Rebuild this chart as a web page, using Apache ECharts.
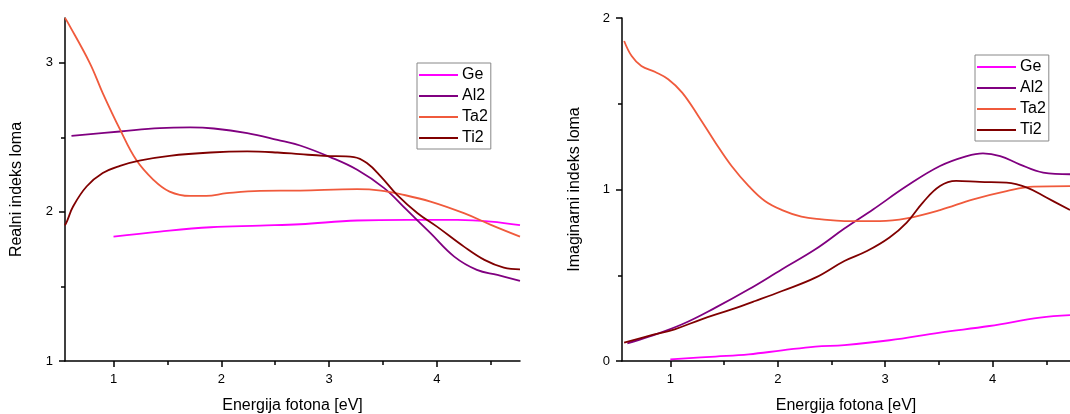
<!DOCTYPE html>
<html>
<head>
<meta charset="utf-8">
<script src="https://cdn.jsdelivr.net/npm/echarts@6/dist/echarts.min.js"></script>
<style>
html,body{margin:0;padding:0;background:#fff;}
#c{width:1070px;height:414px;}
</style>
</head>
<body>
<div id="c"></div>
<script>
// ---- data ----
var seriesNames = ['Ge', 'Al2', 'Ta2', 'Ti2'];
var xMajorTicks = [1, 2, 3, 4];
var xMinorTicks = [1.5, 2.5, 3.5, 4.5];
var yRealMajor = [1, 2, 3];
var yRealMinor = [1.5, 2.5];
var yImagMajor = [0, 1, 2];
var yImagMinor = [0.5, 1.5];

// Real part [energy eV, n]
var geReal = [[1.0,1.834],[1.43,1.868],[1.9,1.897],[2.36,1.908],[2.73,1.917],[3.26,1.942],[3.72,1.946],[4.19,1.946],[4.5,1.935],[4.77,1.911]];
var al2Real = [[0.61,2.51],[1.06,2.539],[1.43,2.562],[1.71,2.566],[1.93,2.559],[2.24,2.528],[2.52,2.483],[2.73,2.445],[3.01,2.367],[3.26,2.282],[3.51,2.159],[3.72,2.013],[3.94,1.857],[4.16,1.70],[4.37,1.611],[4.56,1.577],[4.77,1.537]];
var ta2Real = [[0.55,3.30],[0.57,3.277],[0.78,2.998],[0.90,2.797],[1.06,2.553],[1.21,2.349],[1.37,2.215],[1.52,2.136],[1.71,2.107],[1.86,2.107],[2.05,2.125],[2.36,2.141],[2.73,2.143],[3.26,2.152],[3.48,2.143],[3.66,2.119],[3.94,2.069],[4.25,1.991],[4.5,1.913],[4.77,1.834]];
var ti2Real = [[0.55,1.91],[0.57,1.94],[0.625,2.036],[0.75,2.17],[0.90,2.26],[1.06,2.309],[1.24,2.344],[1.52,2.376],[1.9,2.398],[2.24,2.405],[2.52,2.398],[2.73,2.387],[2.95,2.376],[3.23,2.367],[3.35,2.327],[3.48,2.237],[3.63,2.114],[3.82,1.991],[4.0,1.901],[4.25,1.767],[4.44,1.678],[4.62,1.626],[4.77,1.615]];

// Imaginary part [energy eV, k]
var geImag = [[1.0,0.010],[1.42,0.026],[1.73,0.039],[2.04,0.062],[2.35,0.084],[2.62,0.093],[3.04,0.121],[3.51,0.166],[3.97,0.204],[4.44,0.253],[4.72,0.268]];
var al2Imag = [[0.60,0.103],[0.80,0.142],[1.11,0.214],[1.42,0.311],[1.73,0.418],[2.04,0.535],[2.35,0.651],[2.62,0.772],[2.89,0.885],[3.2,1.02],[3.51,1.137],[3.76,1.195],[3.91,1.211],[4.07,1.195],[4.25,1.147],[4.47,1.099],[4.72,1.089]];
var ta2Imag = [[0.57,1.866],[0.64,1.778],[0.73,1.72],[0.86,1.685],[0.98,1.643],[1.11,1.565],[1.26,1.429],[1.42,1.273],[1.57,1.137],[1.73,1.02],[1.88,0.933],[2.04,0.88],[2.22,0.842],[2.41,0.826],[2.62,0.816],[2.95,0.816],[3.2,0.832],[3.51,0.88],[3.82,0.943],[4.13,0.991],[4.38,1.017],[4.72,1.02]];
var ti2Imag = [[0.57,0.107],[0.80,0.146],[1.04,0.185],[1.29,0.243],[1.57,0.301],[1.79,0.35],[2.04,0.408],[2.35,0.486],[2.62,0.583],[2.83,0.641],[3.04,0.72],[3.2,0.807],[3.35,0.924],[3.51,1.02],[3.66,1.05],[3.88,1.044],[4.13,1.04],[4.32,1.011],[4.5,0.953],[4.72,0.88]];

var colors = {Ge:'#ff00ff', Al2:'#800080', Ta2:'#f05a3c', Ti2:'#800000'};

// ---- chart ----
var FONT = 'Liberation Sans, Arial, sans-serif';
function mainX(gi, max, name){
  return {type:'value', gridIndex:gi, min:0.55, max:max, position:'bottom', offset:0,
    axisLine:{show:true, onZero:false, lineStyle:{color:'#000', width:1.5}},
    axisTick:{show:true, inside:false, length:6, customValues:xMajorTicks, lineStyle:{color:'#000', width:1.5}},
    axisLabel:{customValues:xMajorTicks, color:'#000', fontSize:13, fontFamily:FONT, margin:12},
    splitLine:{show:false},
    name:name, nameLocation:'middle', nameGap:37,
    nameTextStyle:{color:'#000', fontSize:16, fontFamily:FONT}};
}
function minorX(gi, max){
  return {type:'value', gridIndex:gi, min:0.55, max:max, position:'bottom', offset:0,
    axisLine:{show:false, onZero:false},
    axisTick:{show:true, length:4, customValues:xMinorTicks, lineStyle:{color:'#000', width:1.5}},
    axisLabel:{show:false}, splitLine:{show:false}};
}
function mainY(gi, min, max, ticks, name, gap){
  return {type:'value', gridIndex:gi, min:min, max:max, position:'left', offset:0,
    axisLine:{show:true, onZero:false, lineStyle:{color:'#000', width:1.5}},
    axisTick:{show:true, length:6, customValues:ticks, lineStyle:{color:'#000', width:1.5}},
    axisLabel:{customValues:ticks, color:'#000', fontSize:13, fontFamily:FONT, margin:12},
    splitLine:{show:false},
    name:name, nameLocation:'middle', nameGap:gap,
    nameTextStyle:{color:'#000', fontSize:16, fontFamily:FONT}};
}
function minorY(gi, min, max, ticks){
  return {type:'value', gridIndex:gi, min:min, max:max, position:'left', offset:0,
    axisLine:{show:false, onZero:false},
    axisTick:{show:true, length:4, customValues:ticks, lineStyle:{color:'#000', width:1.5}},
    axisLabel:{show:false}, splitLine:{show:false}};
}
function line(name, data, xi, yi){
  return {type:'line', name:name, data:data, xAxisIndex:xi, yAxisIndex:yi,
    smooth:0.4, symbol:'none', lineStyle:{width:1.8, color:colors[name]}, itemStyle:{color:colors[name]}};
}
function legend(left, top){
  return {orient:'vertical', left:left, top:top, data:seriesNames,
    icon:'rect', itemWidth:39, itemHeight:2, itemGap:5,
    padding:[4,3,3,2], borderColor:'#888', borderWidth:1, backgroundColor:'#fff',
    textStyle:{color:'#000', fontSize:16, fontFamily:FONT, padding:[0,0,0,-1]},
    selectedMode:false};
}

var chart = echarts.init(document.getElementById('c'), null, {renderer:'canvas'});
chart.setOption({
  animation:false,
  backgroundColor:'#fff',
  grid:[
    {left:65, top:18, width:455, height:343, outerBoundsMode:'none', containLabel:false},
    {left:622, top:18, right:0, height:343, outerBoundsMode:'none', containLabel:false}
  ],
  xAxis:[mainX(0,4.77,'Energija fotona [eV]'), minorX(0,4.77), mainX(1,4.72,'Energija fotona [eV]'), minorX(1,4.72)],
  yAxis:[mainY(0,1,3.3,yRealMajor,'Realni indeks loma',40), minorY(0,1,3.3,yRealMinor),
         mainY(1,0,2,yImagMajor,'Imaginarni indeks loma',39), minorY(1,0,2,yImagMinor)],
  legend:[legend(417,63), legend(975,55)],
  series:[
    line('Ge', geReal, 0, 0), line('Al2', al2Real, 0, 0), line('Ta2', ta2Real, 0, 0), line('Ti2', ti2Real, 0, 0),
    line('Ge', geImag, 2, 2), line('Al2', al2Imag, 2, 2), line('Ta2', ta2Imag, 2, 2), line('Ti2', ti2Imag, 2, 2)
  ]
});
</script>
</body>
</html>
